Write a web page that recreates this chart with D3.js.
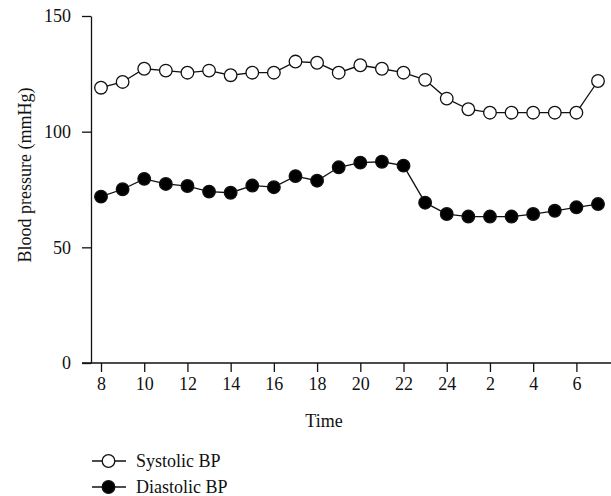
<!DOCTYPE html>
<html lang="en">
<head>
    <meta charset="UTF-8">
    <title>Blood pressure over time</title>
    <script src="https://cdn.jsdelivr.net/npm/d3@7"></script>
    <style>
        body { margin: 0; background: #fff; }
        text { font-family: "Liberation Serif", "Times New Roman", serif; fill: #111; }
    </style>
</head>
<body>
    <script>
    // data
    var hours = [8, 9, 10, 11, 12, 13, 14, 15, 16, 17, 18, 19, 20, 21, 22, 23, 24, 1, 2, 3, 4, 5, 6, 7];
    var systolic = [119, 121.5, 127.2, 126.4, 125.5, 126.4, 124.4, 125.5, 125.5, 130.3, 129.8, 125.5,
                    128.7, 127.2, 125.5, 122.4, 114.3, 109.7, 108.2, 108.2, 108.2, 108.2, 108.2, 121.9];
    var diastolic = [71.9, 75.1, 79.6, 77.4, 76.5, 74.1, 73.6, 76.7, 76.0, 80.8, 78.8, 84.6,
                     86.6, 87.0, 85.3, 69.3, 64.4, 63.3, 63.3, 63.3, 64.4, 65.8, 67.3, 68.7];
    var xTicks = [8, 10, 12, 14, 16, 18, 20, 22, 24, 2, 4, 6];
    var yTicks = [0, 50, 100, 150];
    var seriesNames = ["Systolic BP", "Diastolic BP"];

    var width = 611, height = 496;
    var svg = d3.select("body").append("svg").attr("width", width).attr("height", height);

    var x = d3.scalePoint().domain(hours).range([101, 598]);
    var y = d3.scaleLinear().domain([0, 150]).range([363, 16]);

    // x axis
    var xAxis = svg.append("g")
        .attr("transform", "translate(0," + y(0) + ")")
        .call(d3.axisBottom(x).tickValues(xTicks).tickSize(9).tickSizeOuter(0));
    xAxis.select(".domain").remove();
    xAxis.append("line").attr("x1", 82).attr("x2", 611).attr("stroke", "#111").attr("stroke-width", 1.3);
    xAxis.selectAll(".tick line").attr("stroke", "#111").attr("stroke-width", 1.3);
    xAxis.selectAll(".tick text").attr("font-size", 18).attr("dy", "0.72em").attr("y", 14)
        .attr("font-family", "Liberation Serif").attr("fill", "#111");

    // y axis
    var yAxis = svg.append("g")
        .attr("transform", "translate(91,0)")
        .call(d3.axisLeft(y).tickValues(yTicks).tickSize(9).tickSizeOuter(0));
    yAxis.select(".domain").attr("stroke", "#111").attr("stroke-width", 1.3);
    yAxis.selectAll(".tick line").attr("stroke", "#111").attr("stroke-width", 1.3);
    yAxis.selectAll(".tick text").attr("font-size", 18).attr("x", -20)
        .attr("font-family", "Liberation Serif").attr("fill", "#111");

    // axis titles
    svg.append("text")
        .attr("transform", "translate(31,175) rotate(-90)")
        .attr("text-anchor", "middle")
        .attr("font-size", 18)
        .text("Blood pressure (mmHg)");

    svg.append("text")
        .attr("x", 324).attr("y", 427)
        .attr("text-anchor", "middle")
        .attr("font-size", 18)
        .text("Time");

    // lines and markers
    var line = d3.line()
        .x(function(d, i) { return x(hours[i]); })
        .y(function(d) { return y(d); });

    var series = [
        { name: seriesNames[0], values: systolic, fill: "#fff" },
        { name: seriesNames[1], values: diastolic, fill: "#000" }
    ];

    series.forEach(function(s) {
        svg.append("path")
            .attr("d", line(s.values))
            .attr("fill", "none")
            .attr("stroke", "#111")
            .attr("stroke-width", 1.3);

        svg.selectAll(null)
            .data(s.values)
            .enter()
            .append("circle")
            .attr("cx", function(d, i) { return x(hours[i]); })
            .attr("cy", function(d) { return y(d); })
            .attr("r", 6.3)
            .attr("fill", s.fill)
            .attr("stroke", "#111")
            .attr("stroke-width", 1.3);
    });

    // legend
    var legend = svg.append("g").attr("transform", "translate(92,461)");
    series.forEach(function(s, i) {
        var row = legend.append("g").attr("transform", "translate(0," + (i * 26) + ")");
        row.append("line").attr("x1", 0).attr("x2", 34).attr("stroke", "#111").attr("stroke-width", 1.3);
        row.append("circle").attr("cx", 16.5).attr("cy", 0).attr("r", 6.3)
            .attr("fill", s.fill).attr("stroke", "#111").attr("stroke-width", 1.3);
        row.append("text").attr("x", 44).attr("y", 0).attr("dy", "0.35em")
            .attr("font-size", 18).text(s.name);
    });
    </script>
</body>
</html>
